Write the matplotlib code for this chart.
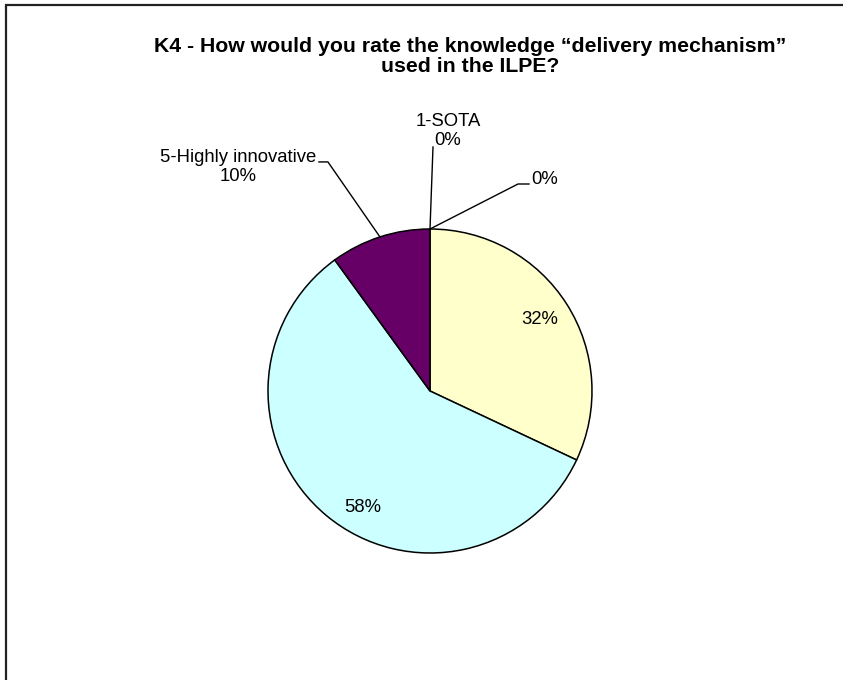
import numpy as np
import matplotlib.pyplot as plt
from matplotlib.patches import Rectangle

plt.rcParams['font.family'] = ['Liberation Sans', 'DejaVu Sans']

# data
title = 'K4 - How would you rate the knowledge \u201cdelivery mechanism\u201d\nused in the ILPE?'
categories = ['1-SOTA', '2', '3', '4', '5-Highly innovative']
shares = [0, 0, 32, 58, 10]
show_name = [True, False, False, False, True]
colors = ['#9999FF', '#993366', '#FFFFCC', '#CCFFFF', '#660066']

# layout (pixels, y up)
W, H = 843, 680
cx, cy, r = 430, H - 391, 162
# outside labels: leader elbow, leader end, text position (relative to anchor on rim)
outside = {
    0: dict(elbow=(3, 82), end=(3, 82), text=(18, 98), ha='center'),
    1: dict(elbow=(88, 45), end=(99, 45), text=(101, 49), ha='left'),
    4: dict(elbow=(-52, 75), end=(-61, 75), text=(-142, 70), ha='center'),
}
# inside labels: offset from pie centre
inside = {2: (110, 71), 3: (-67, -117)}

fig = plt.figure(figsize=(W / 100, H / 100), dpi=100)
ax = fig.add_axes([0, 0, 1, 1])

wedges, _ = ax.pie(shares, colors=colors, startangle=90, counterclock=False,
                   center=(cx, cy), radius=r,
                   wedgeprops=dict(edgecolor='black', linewidth=1.1))
ax.set_xlim(0, W)
ax.set_ylim(0, H)
ax.set_aspect('equal')
ax.axis('off')

for i, w in enumerate(wedges):
    pct = f'{shares[i]}%'
    txt = f'{categories[i]}\n{pct}' if show_name[i] else pct
    if i in outside:
        mid = np.deg2rad((w.theta1 + w.theta2) / 2)
        ax0, ay0 = cx + r * np.cos(mid), cy + r * np.sin(mid)
        o = outside[i]
        ax.plot([ax0, ax0 + o['elbow'][0], ax0 + o['end'][0]],
                [ay0, ay0 + o['elbow'][1], ay0 + o['end'][1]],
                color='black', linewidth=1.0)
        ax.text(ax0 + o['text'][0], ay0 + o['text'][1], txt, ha=o['ha'],
                va='center', multialignment='center', fontsize=13.3)
    else:
        dx, dy = inside[i]
        ax.text(cx + dx, cy + dy, txt, ha='center', va='center', fontsize=13.3)

fig.text(470 / W, 1 - 37 / H, title, ha='center', va='top', fontsize=15.3,
         fontweight='bold', linespacing=1.1)

# chart border (runs off the right and bottom edges)
fig.patches.append(Rectangle((6 / W, -0.05), 1.1, 1 - 4.5 / H + 0.05,
                             transform=fig.transFigure, fill=False,
                             edgecolor='#222222', linewidth=1.6))

plt.savefig('out.png', dpi=100)
